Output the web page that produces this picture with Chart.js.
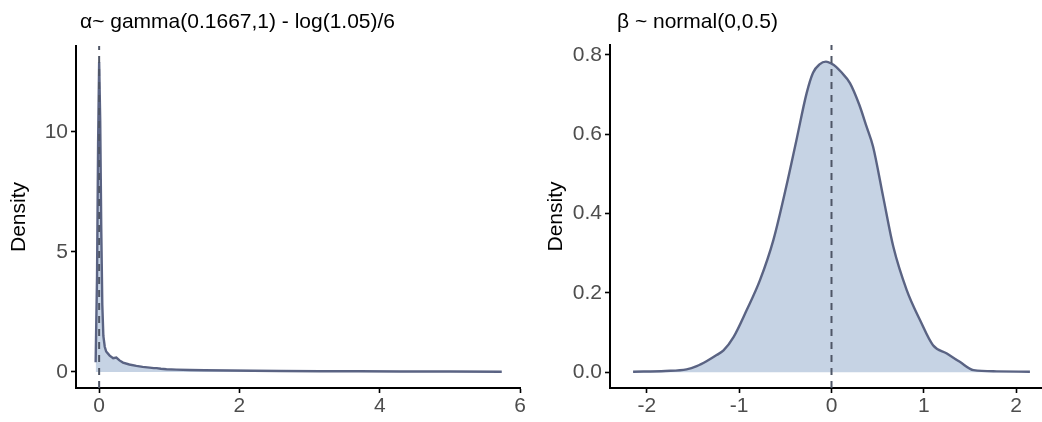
<!DOCTYPE html>
<html>
<head>
<meta charset="utf-8">
<script src="https://cdn.jsdelivr.net/npm/chart.js@4.4.1/dist/chart.umd.min.js"></script>
<style>
  html, body { margin: 0; padding: 0; background: #fff; width: 1042px; height: 422px; overflow: hidden; position: relative; }
  canvas { position: absolute; top: 0; }
  #c1 { left: 0; }
  #c2 { left: 530px; }
</style>
</head>
<body>
<canvas id="c1" width="530" height="422"></canvas>
<canvas id="c2" width="530" height="422"></canvas>
<script>
// ---- Data: alpha ~ gamma(0.1667,1) - log(1.05)/6 (density estimate)
const alphaX = [-0.05, -0.03, -0.015, 0.0, 0.015, 0.03, 0.045, 0.06, 0.08, 0.1, 0.15, 0.2, 0.245, 0.29, 0.34, 0.43, 0.53, 0.62, 0.72, 0.78, 0.82, 0.88, 0.96, 1.1, 1.29, 1.5, 1.86, 2.2, 2.58, 3.15, 3.7, 4.3, 5.0, 5.74];
const alphaY = [0.4, 4.0, 9.5, 12.9, 10.5, 6.0, 2.8, 1.5, 1.05, 0.85, 0.68, 0.57, 0.6, 0.48, 0.39, 0.31, 0.25, 0.21, 0.18, 0.16, 0.16, 0.13, 0.11, 0.095, 0.08, 0.07, 0.06, 0.05, 0.04, 0.03, 0.025, 0.02, 0.015, 0.01];
const alphaXTicks = [0, 2, 4, 6];
const alphaYTicks = [0, 5, 10];

// ---- Data: beta ~ normal(0,0.5) (density estimate)
const betaX = [-2.15, -1.8, -1.57, -1.46, -1.35, -1.245, -1.17, -1.06, -0.92, -0.775, -0.63, -0.49, -0.38, -0.27, -0.2, -0.13, -0.06, 0.0, 0.05, 0.1, 0.2, 0.3, 0.38, 0.45, 0.56, 0.67, 0.815, 0.96, 1.1, 1.25, 1.39, 1.54, 1.79, 2.15];
const betaY = [0.001, 0.003, 0.007, 0.015, 0.028, 0.043, 0.055, 0.089, 0.156, 0.232, 0.333, 0.468, 0.585, 0.703, 0.755, 0.776, 0.783, 0.778, 0.770, 0.758, 0.729, 0.675, 0.619, 0.569, 0.442, 0.316, 0.207, 0.131, 0.068, 0.047, 0.026, 0.005, 0.002, 0.001];
const betaXTicks = [-2, -1, 0, 1, 2];
const betaYTicks = [0, 0.2, 0.4, 0.6, 0.8];

// reference (dashed) line position
const refLineX = [0];

const titles = ['\u03B1~ gamma(0.1667,1) - log(1.05)/6', '\u03B2 ~ normal(0,0.5)'];

const FONT = "'Liberation Sans', Arial, Helvetica, sans-serif";
const LINE = '#5a6383';
const FILL = '#c6d3e4';
const VLINE = '#4f5666';

function titlePlugin(text, dx) {
  return {
    id: 'ptitle',
    afterDraw(chart) {
      const ctx = chart.ctx;
      ctx.save();
      ctx.font = '21px ' + FONT;
      ctx.fillStyle = '#000';
      ctx.textBaseline = 'alphabetic';
      ctx.textAlign = 'left';
      ctx.fillText(text, chart.chartArea.left + dx, 28);
      ctx.restore();
    }
  };
}

function makeChart(id, xs, ys, xTicks, yTicks, lim, geo, title, yFmt, tension) {
  const pts = xs.map((x, i) => ({ x: x, y: ys[i] }));
  const vpts = [];
  refLineX.forEach(v => { vpts.push({ x: v, y: lim.ymin }); vpts.push({ x: v, y: lim.ymax }); });
  const axisCommon = {
    border: { display: true, color: '#000', width: 2 },
    grid: { display: true, drawOnChartArea: false, drawTicks: true, tickLength: 5, color: '#000', tickWidth: 1.6 },
  };
  return new Chart(document.getElementById(id), {
    type: 'line',
    data: {
      datasets: [
        { data: vpts, borderColor: VLINE, borderWidth: 2, borderDash: [7, 6], pointRadius: 0, fill: false, order: 0, tension: 0 },
        { data: pts, borderColor: LINE, backgroundColor: FILL, borderWidth: 2.4, pointRadius: 0, fill: 'origin', order: 1, tension: tension, cubicInterpolationMode: tension ? 'monotone' : 'default' }
      ]
    },
    options: {
      responsive: false,
      animation: false,
      events: [],
      layout: { padding: { top: geo.top, right: geo.right, bottom: 0, left: 0 } },
      plugins: { legend: { display: false }, tooltip: { enabled: false }, title: { display: false } },
      scales: {
        x: Object.assign({}, axisCommon, {
          type: 'linear', min: lim.xmin, max: lim.xmax,
          afterBuildTicks: s => { s.ticks = xTicks.map(v => ({ value: v })); },
          afterFit: s => { s.height = 34; },
          ticks: { color: '#4d4d4d', font: { family: FONT, size: 21 }, padding: 1, maxRotation: 0, autoSkip: false, callback: v => String(v) }
        }),
        y: Object.assign({}, axisCommon, {
          type: 'linear', min: lim.ymin, max: lim.ymax,
          afterBuildTicks: s => { s.ticks = yTicks.map(v => ({ value: v })); },
          afterFit: s => { s.width = geo.yw; },
          title: { display: true, text: 'Density', color: '#000', font: { family: FONT, size: 21 }, padding: { top: geo.tpad, bottom: 0 } },
          ticks: { color: '#4d4d4d', font: { family: FONT, size: 21 }, padding: 3, autoSkip: false, callback: yFmt }
        })
      }
    },
    plugins: [titlePlugin(title, geo.tdx)]
  });
}

makeChart('c1', alphaX, alphaY, alphaXTicks, alphaYTicks,
  { xmin: -0.33, xmax: 6.0, ymin: -0.67, ymax: 13.58 },
  { top: 46, right: 10, yw: 76, tpad: 7, tdx: 4 },
  titles[0], v => String(v), 0);

makeChart('c2', betaX, betaY, betaXTicks, betaYTicks,
  { xmin: -2.40, xmax: 2.40, ymin: -0.040, ymax: 0.825 },
  { top: 45, right: 7, yw: 80, tpad: 14, tdx: 7 },
  titles[1], v => v.toFixed(1), 0.4);
</script>
</body>
</html>
